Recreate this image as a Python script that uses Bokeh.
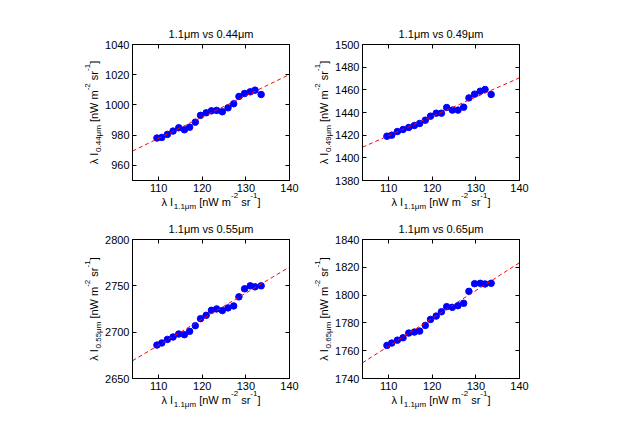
import math
from bokeh.plotting import figure
from bokeh.models import Range1d, LinearAxis, FixedTicker, Label, GridBox
from bokeh.embed import file_html
from bokeh.resources import INLINE

FONT = "Liberation Sans"

# ---------------- data ----------------
x_11 = [109.6, 110.7, 112.0, 113.3, 114.6, 115.9, 117.1, 118.4, 119.6, 120.9,
        122.1, 123.3, 124.6, 125.9, 127.2, 128.4, 129.7, 131.0, 132.1, 133.5]

y_044 = [978.1, 978.5, 980.5, 982.7, 984.9, 983.6, 985.3, 988.6, 993.1, 994.8,
         996.1, 996.4, 995.5, 998.1, 1000.8, 1005.6, 1007.6, 1008.7, 1009.8, 1006.9]
y_049 = [1419.1, 1420.0, 1423.2, 1425.0, 1426.8, 1428.5, 1430.3, 1433.2, 1436.8, 1439.4,
         1439.4, 1444.4, 1442.1, 1442.1, 1444.7, 1452.9, 1456.2, 1458.8, 1460.3, 1455.9]
y_055 = [2686.1, 2688.3, 2692.2, 2694.8, 2698.0, 2697.3, 2700.9, 2707.0, 2714.6, 2718.2,
         2723.6, 2725.1, 2723.3, 2726.2, 2728.3, 2738.1, 2746.8, 2750.0, 2748.9, 2750.0]
y_065 = [1763.8, 1765.5, 1767.6, 1769.3, 1772.7, 1773.4, 1774.1, 1778.2, 1782.5, 1784.9,
         1788.0, 1791.7, 1791.2, 1792.4, 1794.1, 1802.7, 1808.2, 1808.5, 1808.0, 1808.5]

series = [y_044, y_049, y_055, y_065]
titles = ["1.1\u03bcm vs 0.44\u03bcm", "1.1\u03bcm vs 0.49\u03bcm",
          "1.1\u03bcm vs 0.55\u03bcm", "1.1\u03bcm vs 0.65\u03bcm"]
band_subs = ["0.44\u03bcm", "0.49\u03bcm", "0.55\u03bcm", "0.65\u03bcm"]
x_sub = "1.1\u03bcm"

# linear fit: slope and value at x = 120
fit_slope = [1.408, 1.70, 2.81, 2.00]
fit_at_120 = [992.0, 1436.6, 2714.1, 1783.3]

x_limits = (104, 140)
x_ticks = [110, 120, 130, 140]
y_limits = [(950, 1040), (1380, 1500), (2650, 2800), (1740, 1840)]
y_ticks = [[960, 980, 1000, 1020, 1040],
           [1380, 1400, 1420, 1440, 1460, 1480, 1500],
           [2650, 2700, 2750, 2800],
           [1740, 1760, 1780, 1800, 1820, 1840]]

# ---------------- layout constants ----------------
FW = 157
COL_L = [(132, 20), (53, 10)]          # (border_left, border_right) per column
ROW_T = [(44, 136, 36), (23, 139, 36)]  # (border_top, frame_h, border_bottom) per row
TOTAL_W = sum(l + FW + r for l, r in COL_L)
TOTAL_H = sum(t + h + b for t, h, b in ROW_T)

CW = {' ': 0.278, '[': 0.278, ']': 0.278, 'n': 0.556, 'W': 0.944, 'm': 0.833,
      's': 0.5, 'r': 0.333, '\u03bb': 0.556, 'I': 0.278, '.': 0.278,
      '\u03bc': 0.576, '-': 0.333, 'v': 0.5}
MAIN, SCRIPT = 11, 8


def text_w(s, size):
    return sum(CW.get(c, 0.556) for c in s) * size


def style_axis(ax, ticks, show_labels):
    ax.ticker = FixedTicker(ticks=ticks)
    ax.major_tick_in = 4
    ax.major_tick_out = 0
    ax.minor_tick_line_color = None
    ax.axis_line_color = "black"
    ax.major_tick_line_color = "black"
    ax.major_label_standoff = 3
    ax.major_label_text_font = FONT
    if show_labels:
        ax.major_label_text_color = "black"
        ax.major_label_text_font_size = "11px"
    else:
        ax.major_label_text_color = None
        ax.major_label_text_font_size = "0px"
        ax.major_label_standoff = 0


def make_panel(i, left, right, top, fh, bottom):
    ylo, yhi = y_limits[i]
    p = figure(frame_width=FW, frame_height=fh,
               x_range=Range1d(*x_limits), y_range=Range1d(ylo, yhi),
               output_backend="svg", toolbar_location=None,
               min_border_left=left, min_border_right=right,
               min_border_top=top, min_border_bottom=bottom,
               background_fill_color="white", border_fill_color="white")
    p.xgrid.visible = False
    p.ygrid.visible = False
    p.outline_line_color = "black"
    style_axis(p.xaxis[0], x_ticks, True)
    style_axis(p.yaxis[0], y_ticks[i], True)
    top_ax = LinearAxis()
    right_ax = LinearAxis()
    style_axis(top_ax, x_ticks, False)
    style_axis(right_ax, y_ticks[i], False)
    p.add_layout(top_ax, "above")
    p.add_layout(right_ax, "right")

    p.scatter(x_11, series[i], size=6.5, color="#0000ff", line_color="#0000ff")
    xl = list(x_limits)
    yl = [fit_at_120[i] + fit_slope[i] * (xv - 120) for xv in xl]
    p.line(xl, yl, line_color="#ff0000", line_dash="4 3", line_width=1)
    return p


panels = []
frames = []  # frame boxes (left, top, bottom) in layout pixels
y0 = 0
for r, (t, fh, b) in enumerate(ROW_T):
    x0 = 0
    for c, (l, rr) in enumerate(COL_L):
        i = 2 * r + c
        panels.append((make_panel(i, l, rr, t, fh, b), r, c))
        frames.append((x0 + l, y0 + t, y0 + t + fh))
        x0 += l + FW + rr
    y0 += t + fh + b

inner = GridBox(children=panels)

# ---------------- text overlay (titles and axis labels) ----------------
ov = figure(frame_width=TOTAL_W, frame_height=TOTAL_H,
            x_range=Range1d(0, TOTAL_W), y_range=Range1d(0, TOTAL_H),
            output_backend="svg", toolbar_location=None,
            x_axis_location=None, y_axis_location=None,
            min_border=0, min_border_left=0, min_border_right=0,
            min_border_top=0, min_border_bottom=0,
            background_fill_color=None, border_fill_color=None,
            outline_line_color=None)
ov.xgrid.visible = False
ov.ygrid.visible = False


def put(x, y, text, size, angle=0.0, align="left"):
    ov.add_layout(Label(x=x, y=TOTAL_H - y, text=text, angle=angle,
                        text_align=align, text_baseline="alphabetic",
                        text_font=FONT, text_font_size=f"{size}px",
                        text_color="black"))


def rich(pieces, cx, cy, horizontal):
    sizes = [MAIN if k == "n" else SCRIPT for _, k in pieces]
    total = sum(text_w(t, s) for (t, _), s in zip(pieces, sizes))
    pos = -total / 2
    for (t, k), s in zip(pieces, sizes):
        lead = len(t) - len(t.lstrip(" "))
        pos += lead * CW[" "] * s
        t = t.lstrip(" ")
        shift = {"n": 0, "sub": 5, "sup": -6}[k]   # + = lower (in text frame)
        if horizontal:
            put(cx + pos, cy + shift, t, s)
        else:
            put(cx + shift, cy - pos, t, s, angle=math.pi / 2)
        pos += text_w(t, s)


for i, (fl, ft, fb) in enumerate(frames):
    cx = fl + FW / 2
    cy = (ft + fb) / 2
    put(cx, ft - 11, titles[i], 11, align="center")
    xpieces = [("\u03bb I", "n"), (x_sub, "sub"), (" [nW m", "n"), ("-2", "sup"),
               (" sr", "n"), ("-1", "sup"), ("]", "n")]
    ypieces = [("\u03bb I", "n"), (band_subs[i], "sub"), (" [nW m", "n"), ("-2", "sup"),
               (" sr", "n"), ("-1", "sup"), ("]", "n")]
    rich(xpieces, cx, fb + 21, True)
    rich(ypieces, fl - 39, cy, False)

layout = GridBox(children=[(inner, 0, 0), (ov, 0, 0)])

open("out.html", "w").write(file_html(layout, INLINE))
